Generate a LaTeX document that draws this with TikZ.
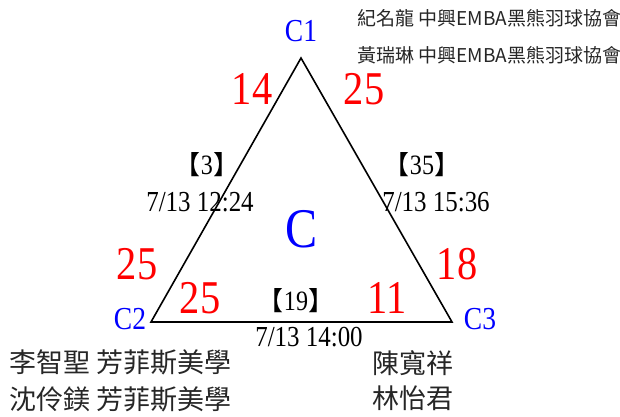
\documentclass[tikz,border=0pt]{standalone}
\usepackage{fontspec}
\usepackage{tikz}
\usetikzlibrary{positioning, calc}
\usepackage{xcolor}
\newfontfamily\numfont{Liberation Serif}[FakeStretch=0.86]
\newfontfamily\cjk{Noto Sans CJK TC}
\definecolor{scorered}{RGB}{255,0,0}
\definecolor{courtblue}{RGB}{0,0,255}
\newcommand{\fs}[1]{\fontsize{#1}{#1}\selectfont}

\begin{document}
\begin{tikzpicture}[x=1pt, y=-1pt]
  \useasboundingbox (0,0) rectangle (620,416);
  % triangle of courts
  \coordinate (c1) at (301,58);
  \coordinate (c2) at (151,322);
  \coordinate (c3) at (452,322);
  \draw[line width=1.6pt, line join=miter] (c1) -- (c2) -- (c3) -- cycle;
  % court names
  \node[courtblue, font=\numfont\fs{32}] (n1) at (301,31) {C1};
  \node[courtblue, font=\numfont\fs{32}] (n2) at (130,319) {C2};
  \node[courtblue, font=\numfont\fs{32}] (n3) at (480,319) {C3};
  \node[courtblue, font=\numfont\fs{56}] (nc) at (302,229) {C};
  % scores
  \node[scorered, font=\numfont\fs{47}] (s12) at (252,89) {14};
  \node[scorered, font=\numfont\fs{47}] (s13) at (364,89) {25};
  \node[scorered, font=\numfont\fs{47}] (s21) at (137,264) {25};
  \node[scorered, font=\numfont\fs{47}] (s31) at (457,264) {18};
  \node[scorered, font=\numfont\fs{47}] (s23) at (200,298) {25};
  \node[scorered, font=\numfont\fs{47}] (s32) at (387,298) {11};
  % game numbers and times
  \node[font=\numfont\fs{28}] (g3) at (207,165) {{\cjk\fs{26}【}3{\cjk\fs{26}】}};
  \node[font=\numfont\fs{29}] (t3) at (200,202) {7/13 12:24};
  \node[font=\numfont\fs{28}] (g35) at (422,165) {{\cjk\fs{26}【}35{\cjk\fs{26}】}};
  \node[font=\numfont\fs{29}] (t35) at (436,202) {7/13 15:36};
  \node[font=\numfont\fs{28}] (g19) at (296,301) {{\cjk\fs{26}【}19{\cjk\fs{26}】}};
  \node[font=\numfont\fs{29}] (t19) at (309,337) {7/13 14:00};
  % players
  \node[anchor=west, font=\cjk\fs{19}, text=black!85] (p1a) at (354,18) {紀名龍 中興EMBA黑熊羽球協會};
  \node[anchor=west, font=\cjk\fs{19}, text=black!85] (p1b) at (354,55) {黃瑞琳 中興EMBA黑熊羽球協會};
  \node[anchor=west, font=\cjk\fs{27}, text=black!85] (p2a) at (6,362) {李智聖 芳菲斯美學};
  \node[anchor=west, font=\cjk\fs{27}, text=black!85] (p2b) at (6,399) {沈伶鎂 芳菲斯美學};
  \node[font=\cjk\fs{27}, text=black!85] (p3a) at (413,363) {陳寬祥};
  \node[font=\cjk\fs{27}, text=black!85] (p3b) at (413,398) {林怡君};
\end{tikzpicture}
\end{document}
